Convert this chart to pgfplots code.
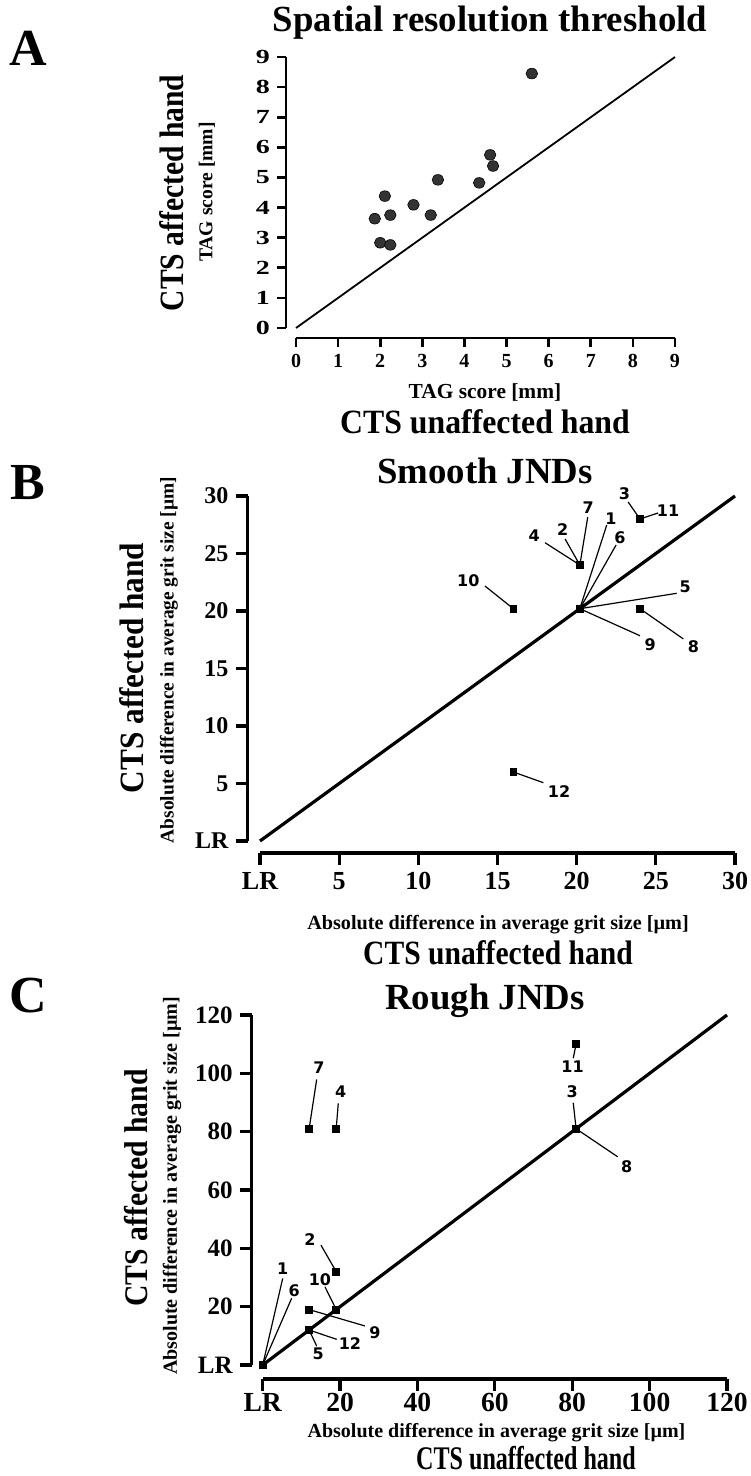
\documentclass[border=0pt]{standalone}
\usepackage{fontspec}
\setmainfont{Liberation Serif}
\newfontfamily\lblfont{DejaVu Sans}
\usepackage{pgfplots}
\pgfplotsset{compat=1.18}
\pgfplotsset{
  base/.style={
    scale only axis, clip=false,
    axis x line=bottom, axis y line=left,
    tick align=outside,
    /pgf/number format/assume math mode=true,
    anchor=south west,
  },
}
\newcommand\ann[7]{%
  \draw[line width=0.6pt] (axis cs:#3,#4) -- (axis cs:#5,#6);
  \node[inner sep=0pt, font=\lblfont\fontsize{8}{9.5}\selectfont\bfseries] at (axis cs:#1,#2) {#7};
}
\begin{document}
\begin{tikzpicture}
\useasboundingbox (0,0) rectangle (375pt,-738pt);

% ---------------- A ----------------
\begin{axis}[base, at={(148pt,-164pt)}, width=189.5pt, height=135.5pt,
  xmin=0, xmax=9, ymin=0, ymax=9, xtick={0,...,9}, ytick={0,...,9},
  axis line style={line width=1.3pt,-},
  tick style={line width=1.3pt, black}, major tick length=4.5pt,
  axis x line shift=5pt, axis y line shift=5pt,
  tick label style={font=\fontsize{10}{12}\selectfont\bfseries},
  yticklabel={\scalebox{1.4}[1]{\pgfmathprintnumber{\tick}}},
]
\addplot[no marks, line width=0.9pt] coordinates {(0,0) (9,9)};
\addplot[only marks, mark=*, mark size=2.9pt,
  mark options={fill=black!80, draw=black, line width=0.3pt, yscale=0.92}]
  coordinates {(5.6,8.45) (4.61,5.75) (4.68,5.38) (3.37,4.92) (4.35,4.82)
  (2.11,4.38) (2.79,4.09) (1.87,3.63) (2.24,3.75) (3.2,3.75) (2.0,2.83) (2.24,2.76)};
\end{axis}

% ---------------- B ----------------
\begin{axis}[base, at={(130pt,-420.5pt)}, width=237.5pt, height=172.5pt,
  xmin=0, xmax=30, ymin=0, ymax=30,
  xtick={0,5,...,30}, ytick={0,5,...,30},
  xticklabels={LR,5,10,15,20,25,30}, yticklabels={LR,5,10,15,20,25,30},
  axis line style={line width=1.6pt,-},
  tick style={line width=1.6pt, black}, major tick length=6pt,
  axis x line shift=6pt, axis y line shift=6.25pt,
  xticklabel style={font=\fontsize{13}{15}\selectfont\bfseries},
  yticklabel style={font=\fontsize{12}{14}\selectfont\bfseries},
]
\addplot[no marks, line width=1.6pt] coordinates {(0,0) (30,30)};
\ann{23.01}{30.2}{23.25}{29.48}{24}{28}{3}
\ann{25.77}{28.7}{25.14}{28.52}{24}{28}{11}
\ann{20.72}{28.96}{20.70}{28.17}{20.2}{24}{7}
\ann{22.17}{28.0}{21.9}{27.48}{20.2}{20.2}{1}
\ann{22.74}{26.35}{22.49}{25.74}{20.2}{20.2}{6}
\ann{19.12}{27.04}{19.27}{26.26}{20.2}{24}{2}
\ann{17.31}{26.52}{18.0}{25.94}{20.2}{24}{4}
\ann{13.16}{22.63}{14.21}{22.17}{16}{20.2}{10}
\ann{26.85}{22.09}{26.32}{21.54}{20.2}{20.2}{5}
\ann{24.64}{17.04}{24.0}{17.85}{20.2}{20.2}{9}
\ann{27.37}{16.9}{26.74}{17.57}{24}{20.2}{8}
\ann{18.89}{4.29}{17.9}{5.07}{16}{6}{12}
\addplot[only marks, mark=square*, mark size=1.7pt, black]
  coordinates {(20.2,24) (20.2,20.2) (24,28) (16,20.2) (24,20.2) (16,6)};
\end{axis}

% ---------------- C ----------------
\begin{axis}[base, at={(131.35pt,-682.5pt)}, width=232.15pt, height=175pt,
  xmin=0, xmax=120, ymin=0, ymax=120,
  xtick={0,20,...,120}, ytick={0,20,...,120},
  xticklabels={LR,20,40,60,80,100,120}, yticklabels={LR,20,40,60,80,100,120},
  axis line style={line width=1.6pt,-},
  tick style={line width=1.6pt, black}, major tick length=6pt,
  axis x line shift=7pt, axis y line shift=5.5pt,
  xticklabel style={font=\fontsize{13.8}{15}\selectfont\bfseries, inner sep=1pt},
  yticklabel style={font=\fontsize{12.5}{15}\selectfont\bfseries},
]
\addplot[no marks, line width=1.6pt] coordinates {(0,0) (120,120)};
\ann{80.1}{102.3}{80.26}{105.2}{81}{110}{11}
\ann{80.0}{93.6}{80.26}{89.9}{81}{81}{3}
\ann{94.06}{68.0}{91.73}{71.4}{81}{81}{8}
\ann{14.55}{102.1}{13.95}{97.9}{12}{81}{7}
\ann{20.16}{93.7}{19.53}{89.7}{19}{81}{4}
\ann{12.2}{42.85}{15.06}{41.1}{19}{32}{2}
\ann{5.17}{33.15}{5.17}{29.7}{0}{0}{1}
\ann{8.17}{25.4}{7.49}{22.9}{0}{0}{6}
\ann{14.8}{29.4}{16.1}{26.8}{19}{19}{10}
\ann{29.0}{11.1}{26.4}{13.4}{12}{19}{9}
\ann{22.56}{7.2}{19.12}{8.8}{12}{12}{12}
\ann{14.37}{4.0}{13.95}{6.5}{12}{12}{5}
\addplot[only marks, mark=square*, mark size=1.7pt, black]
  coordinates {(81,110) (81,81) (12,81) (19,81) (19,32) (12,19) (19,19) (12,12) (0,0)};
\end{axis}

% ---------------- texts (px coordinates) ----------------
\begin{scope}[x=0.5pt, y=-0.5pt]
\node[font=\fontsize{26}{30}\selectfont\bfseries] at (28,48) {A};
\node[font=\fontsize{26}{30}\selectfont\bfseries] at (28,483) {B};
\node[font=\fontsize{26}{30}\selectfont\bfseries] at (28,996) {C};

\node[font=\fontsize{18.4}{22}\selectfont\bfseries] at (490,23) {Spatial resolution threshold};
\node[font=\fontsize{18.4}{22}\selectfont\bfseries] at (485,471) {Smooth JNDs};
\node[font=\fontsize{18.4}{22}\selectfont\bfseries] at (485,1001) {Rough JNDs};

% A
\node[rotate=90] at (172,193) {\scalebox{0.87}[1]{\fontsize{17}{20}\selectfont\bfseries CTS affected hand}};
\node[rotate=90, font=\fontsize{9.8}{12}\selectfont\bfseries] at (207,192) {TAG score [mm]};
\node[font=\fontsize{10.7}{13}\selectfont\bfseries] at (485,393) {TAG score [mm]};
\node at (485,422) {\scalebox{0.935}[1]{\fontsize{17}{20}\selectfont\bfseries CTS unaffected hand}};

% B
\node[rotate=90] at (131.7,668) {\scalebox{0.92}[1]{\fontsize{17}{20}\selectfont\bfseries CTS affected hand}};
\node[rotate=90, font=\fontsize{9.7}{12}\selectfont\bfseries] at (169,660) {Absolute difference in average grit size [µm]};
\node[font=\fontsize{10.1}{12}\selectfont\bfseries] at (498,925) {Absolute difference in average grit size [µm]};
\node at (498,953) {\scalebox{0.87}[1]{\fontsize{17}{20}\selectfont\bfseries CTS unaffected hand}};

% C
\node[rotate=90] at (136,1188) {\scalebox{0.9}[1]{\fontsize{16.5}{20}\selectfont\bfseries CTS affected hand}};
\node[rotate=90, font=\fontsize{10}{12}\selectfont\bfseries] at (172,1186) {Absolute difference in average grit size [µm]};
\node[font=\fontsize{10}{12}\selectfont\bfseries, inner sep=1pt] at (496.5,1433) {Absolute difference in average grit size [µm]};
\node at (526,1458) {\scalebox{0.73}[1]{\fontsize{16.5}{20}\selectfont\bfseries CTS unaffected hand}};
\end{scope}
\end{tikzpicture}
\end{document}
